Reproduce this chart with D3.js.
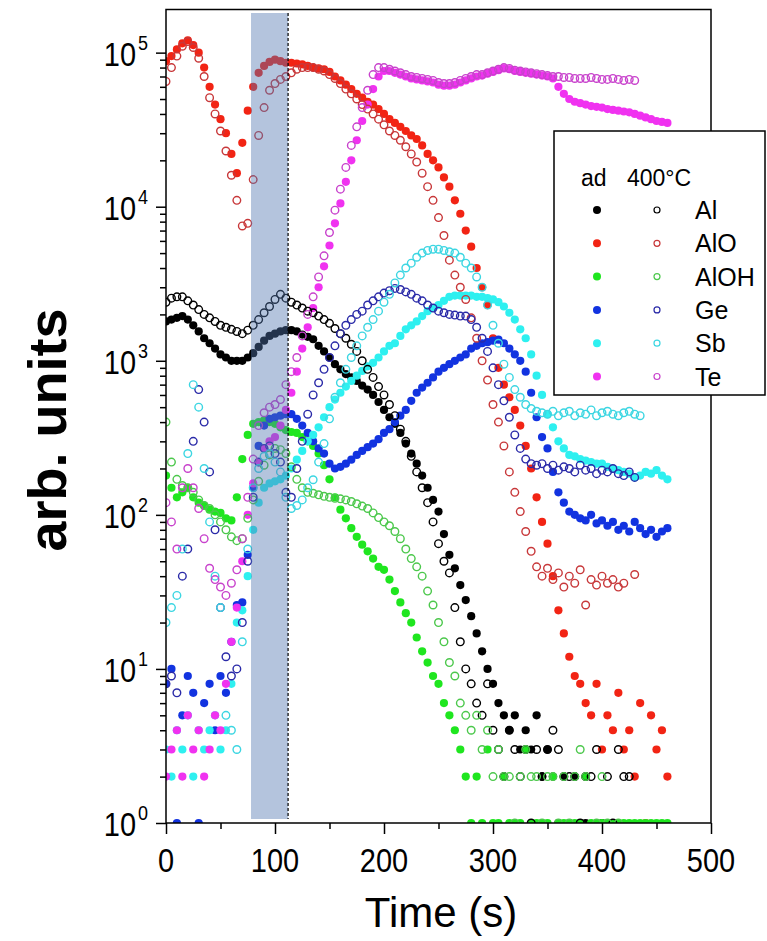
<!DOCTYPE html>
<html><head><meta charset="utf-8">
<script src="https://cdn.jsdelivr.net/npm/d3@7"></script>
<style>
body{margin:0;background:#fff}
svg{display:block}
text{font-family:"Liberation Sans",Arial,Helvetica,sans-serif;fill:#000}
</style>
</head><body>
<svg id="chart" width="767" height="941"></svg>
<script>
// ---------------- data (time in s, signal in arb. units) ----------------
const time = [
  0,5,10,15,20,25,30,35,40,45, 50,55,60,65,70,75,80,85,90,95,
  100,105,110,115,120,125,130,135,140,145, 150,155,160,165,170,175,180,185,190,195,
  200,205,210,215,220,225,230,235,240,245, 250,255,260,265,270,275,280,285,290,295,
  300,305,310,315,320,325,330,335,340,345, 350,355,360,365,370,375,380,385,390,395,
  400,405,410,415,420,425,430,435,440,445, 450,455,460];

// "ad" (filled) series
const alAd = [
  1800,1850,1900,1950,1850,1700,1550,1400,1300,1200,
  1100,1050,1000,1000,1000,1050,1120,1230,1350,1450,
  1500,1550,1580,1580,1550,1480,1430,1380,1250,1150,
  1050,950,880,820,780,740,690,650,600,540,
  480,430,390,340,290,250,215,180,150,125,
  105,75,55,45,35,28,22,17,13,10,
  8,6,5,4,5,3,4,3,5,2,
  3,2,1,2,1,2,1,1,null,null,
  1,null,null,null,null,null,null,null,null,null,
  null,null,null];
const alOAd = [
  88000,95000,105000,115000,120000,112000,100000,80000,60000,46000,
  37000,30000,22000,16500,26000,42000,60000,74000,82000,87000,
  90000,88000,86000,86000,85000,84000,82000,80000,79000,78000,
  75000,70000,66000,62000,58000,54000,51000,48000,46000,43000,
  40000,37000,35000,33000,31000,29000,27500,25000,22000,20000,
  18000,15500,13500,11000,9000,7000,5500,4000,3000,2300,
  1400,900,700,580,480,380,280,200,130,90,
  65,40,24,17,12,9,8,6,5,8,
  3,5,4,7,3,4,2,6,1,5,
  3,4,2];
const alOHAd = [
  180,150,130,140,150,130,120,115,108,105,
  103,95,92,130,230,330,390,400,410,400,
  390,370,355,345,340,320,300,280,250,210,
  170,130,108,95,82,72,64,58,52,46,
  44,38,32,27,23,20,16,13,11,9,
  8,6,5,4,3,2,1,2,1,3,
  1,1,2,1,1,1,3,1,1,1,
  1,2,1,1,1,1,1,2,1,1,
  1,1,1,1,1,1,1,1,1,1,
  1,1,1];
const geAd = [
  8,10,1,5,9,7,1,6,8,4,
  9,7,15,26,27,55,150,280,380,420,
  430,440,450,450,420,380,340,300,270,250,
  215,200,205,215,228,245,260,275,290,310,
  340,360,400,440,480,550,620,670,720,780,
  850,900,950,1000,1050,1100,1200,1250,1300,1320,
  1350,1370,1300,1200,1100,1000,850,620,430,320,
  270,190,140,120,105,100,95,92,100,88,
  92,85,90,80,85,78,90,82,75,80,
  72,78,82];
const sbAd = [
  3,2,4,3,5,2,4,3,4,5,
  3,4,8,20,24,40,80,120,150,160,
  165,170,180,200,228,260,300,330,370,430,
  500,560,620,680,740,800,860,920,970,1050,
  1150,1250,1300,1450,1600,1700,1800,1950,2100,2200,
  2300,2450,2600,2650,2650,2650,2650,2600,2600,2550,
  2500,2400,2250,2050,1850,1600,1400,1100,800,600,
  450,370,300,270,245,240,230,225,220,215,
  215,205,200,195,190,185,175,180,190,185,
  195,180,170];
const teAd = [
  2,3,4,2,5,3,4,2,3,5,
  4,8,15,25,50,100,160,220,270,300,
  320,380,480,620,850,1200,1650,2200,3000,4100,
  5600,7800,10500,14500,20000,27000,36000,46000,58000,70000,
  76000,76000,74000,72000,70000,68000,67000,66000,65000,64000,
  62000,61000,61000,62000,64000,66000,68000,70000,71000,73000,
  75000,77000,79000,78000,76000,75000,74000,73000,72000,71000,
  70000,68000,60000,54000,50000,48000,47000,46000,45000,44500,
  44000,43000,42500,42000,41500,41000,40000,39000,38000,37000,
  36000,35500,35000];

// "400°C" (open) series
const al400 = [
  2400,2550,2600,2600,2450,2300,2150,2000,1900,1800,
  1700,1650,1600,1550,1500,1580,1700,1850,2050,2250,
  2500,2700,2550,2400,2300,2200,2100,2050,1950,1850,
  1750,1620,1500,1400,1280,1150,1000,880,780,680,
  600,520,440,360,300,240,190,150,120,90,
  65,50,42,25,15,10,8,6,5,8,
  4,3,2,4,3,2,3,1,3,2,
  3,4,3,2,2,2,1,2,2,3,
  null,2,1,3,2,2,null,null,null,null,
  null,null,null];
const alO400 = [
  65000,80000,95000,110000,118000,108000,92000,70000,51000,40000,
  31000,23000,16000,11000,7500,7800,15000,29000,44000,57000,
  63000,67000,70000,74000,78000,80000,80000,80000,78000,76000,
  72000,68000,63000,58000,54000,50000,46000,43000,40000,37000,
  34000,31000,29000,27000,24500,22000,19500,16500,13500,11000,
  8500,6500,4500,3600,3000,2500,1900,1400,1000,750,
  520,400,280,190,140,105,78,58,46,40,
  45,38,42,34,40,36,44,26,38,35,
  40,36,38,34,36,null,41,null,null,null,
  null,null,null];
const alOH400 = [
  400,220,170,155,150,140,125,115,110,100,
  90,80,72,68,70,95,125,165,210,245,
  270,265,250,205,170,150,140,138,135,132,
  130,128,127,125,122,118,114,110,103,96,
  90,85,78,70,60,52,46,40,32,26,
  20,15,11,9,6,5,4,5,3,4,
  2,3,2,2,1,2,3,2,2,1,
  2,2,1,2,1,2,3,2,null,1,
  2,1,null,1,null,null,null,null,null,null,
  null,null,null];
const ge400 = [
  8,9,7,40,60,300,650,400,190,80,
  25,12,9,10,20,50,130,220,270,280,
  250,220,140,130,200,300,450,600,720,880,
  1050,1250,1500,1700,1850,2000,2100,2300,2450,2600,
  2750,2850,2950,2900,2800,2700,2550,2450,2300,2200,
  2100,2050,2000,1980,1950,1950,1850,1650,1400,1150,
  900,700,550,430,330,270,230,215,210,215,
  200,210,195,205,200,190,210,195,200,185,
  195,190,200,185,180,190,175,null,null,null,
  null,null,null];
const sb400 = [
  20,25,30,60,250,700,500,200,90,40,
  25,5,4,3,15,60,150,200,240,250,
  220,190,130,110,115,125,150,169,220,290,
  420,580,720,880,1050,1250,1450,1650,1850,2100,
  2400,2700,3200,3600,4000,4300,4700,5000,5200,5300,
  5300,5200,5100,5000,4700,4300,4000,3500,3000,2300,
  1700,1300,950,780,650,580,520,490,470,460,
  450,470,440,460,470,440,460,450,480,440,
  460,470,450,440,460,470,450,440,null,null,
  null,null,null];
const te400 = [
  120,90,60,150,200,150,110,70,45,38,
  34,30,36,44,70,130,230,380,460,500,
  520,560,700,850,1050,1450,2000,2600,3500,4800,
  6800,9500,13000,18000,25000,33000,44000,57000,72000,80000,
  80000,78000,76000,74000,72000,70000,69000,68000,67000,66000,
  64000,63000,63000,64000,66000,68000,70000,72000,72000,74000,
  76000,78000,80000,79000,77000,76000,75000,74000,73000,72000,
  71000,70000,70000,69000,69000,68000,68000,68000,69000,68000,
  67000,67000,68000,67000,66000,67000,66000,null,null,null,
  null,null,null];

const species = ["Al","AlO","AlOH","Ge","Sb","Te"];
const adSeries = [alAd, alOAd, alOHAd, geAd, sbAd, teAd];
const hotSeries = [al400, alO400, alOH400, ge400, sb400, te400];
const adColors = ["#000000","#f22414","#1fe61f","#1233e0","#2ef0f0","#f032f0"];
const hotColors = ["#000000","#c8383a","#4cc84c","#2a2aa8","#3cd6e2","#c842cc"];
const xTickValues = [0,100,200,300,400,500];
const xMinorValues = [50,150,250,350,450];
const yExponents = [0,1,2,3,4,5];
const shadeStart = 78, shadeEnd = 112;
const legendHeader = ["ad","400°C"];

// ---------------- layout ----------------
const L = 166, R = 711, T = 9.5, B = 823;
const svg = d3.select("#chart");
const x = d3.scaleLinear().domain([0,500]).range([L,R]);
const y = d3.scaleLog().domain([1, Math.pow(10,5.28)]).range([B,T]);

svg.append("defs").append("clipPath").attr("id","plotclip")
  .append("rect").attr("x",L).attr("y",T).attr("width",R-L).attr("height",B-T);

const plot = svg.append("g").attr("clip-path","url(#plotclip)");
const pts = arr => time.map((t,i)=>({t, v: arr[i]})).filter(d => d.v != null);

// filled markers
adSeries.forEach((arr,k)=>{
  plot.append("g").selectAll("circle").data(pts(arr)).join("circle")
    .attr("cx",d=>x(d.t)).attr("cy",d=>y(d.v)).attr("r",4.1)
    .attr("fill",adColors[k]);
});
// open markers
hotSeries.forEach((arr,k)=>{
  plot.append("g").selectAll("circle").data(pts(arr)).join("circle")
    .attr("cx",d=>x(d.t)).attr("cy",d=>y(d.v)).attr("r",3.8)
    .attr("fill","none").attr("stroke",hotColors[k]).attr("stroke-width",1.4);
});

// shaded window (semi-transparent, drawn over the data)
svg.append("rect")
  .attr("x",x(shadeStart)).attr("width",x(shadeEnd)-x(shadeStart))
  .attr("y",T+3.5).attr("height",B-T-7.5)
  .attr("fill","rgb(80,118,176)").attr("fill-opacity",0.43);
svg.append("line")
  .attr("x1",x(shadeEnd)).attr("x2",x(shadeEnd)).attr("y1",T+3.5).attr("y2",B-4)
  .attr("stroke","#000").attr("stroke-width",1.2).attr("stroke-dasharray","3,2");

// frame
svg.append("rect").attr("x",L).attr("y",T).attr("width",R-L).attr("height",B-T)
  .attr("fill","none").attr("stroke","#000").attr("stroke-width",1.5);

// y axis
const yMinor = [];
yExponents.forEach(e=>{ for(let m=2;m<=9;m++){ const v=m*Math.pow(10,e); if(v<Math.pow(10,5.28)) yMinor.push(v);} });
const styleAxis = g => { g.select(".domain").remove(); g.selectAll(".tick line").attr("stroke","#000").attr("stroke-width",1.5); };
svg.append("g").attr("transform",`translate(${L},0)`)
  .call(d3.axisLeft(y).tickValues(yExponents.map(e=>Math.pow(10,e))).tickSize(10).tickFormat(""))
  .call(styleAxis);
svg.append("g").attr("transform",`translate(${L},0)`)
  .call(d3.axisLeft(y).tickValues(yMinor).tickSize(6).tickFormat(""))
  .call(styleAxis);

const TS = 1.15;
yExponents.forEach(e=>{
  const t = svg.append("text")
    .attr("transform",`translate(148,${y(Math.pow(10,e))+13}) scale(1,${TS})`)
    .attr("text-anchor","end");
  t.append("tspan").attr("font-size",29).text("10");
  t.append("tspan").attr("font-size",18).attr("dy",-14).attr("dx",2).text(String(e));
});

// x axis
svg.append("g").attr("transform",`translate(0,${B})`)
  .call(d3.axisBottom(x).tickValues(xTickValues).tickSize(11).tickFormat(""))
  .call(styleAxis);
svg.append("g").attr("transform",`translate(0,${B})`)
  .call(d3.axisBottom(x).tickValues(xMinorValues).tickSize(6).tickFormat(""))
  .call(styleAxis);
xTickValues.forEach(v=>{
  svg.append("text").attr("transform",`translate(${x(v)},872) scale(1,${TS})`)
    .attr("text-anchor","middle").attr("font-size",29).text(String(v));
});

// axis titles
svg.append("text").attr("transform",`translate(441,927)`)
  .attr("text-anchor","middle").attr("font-size",42).text("Time (s)");
svg.append("text").attr("transform",`translate(66,430) rotate(-90)`)
  .attr("text-anchor","middle").attr("font-size",54).attr("font-weight","bold").text("arb. units");

// legend
const lg = svg.append("g");
lg.append("rect").attr("x",554).attr("y",131).attr("width",211).attr("height",264)
  .attr("fill","#fff").attr("stroke","#000").attr("stroke-width",1.5);
lg.append("text").attr("x",581).attr("y",186).attr("font-size",23).text(legendHeader[0]);
lg.append("text").attr("x",627).attr("y",186).attr("font-size",23).text(legendHeader[1]);
species.forEach((s,i)=>{
  const cy = 210 + i*33.3;
  lg.append("circle").attr("cx",597).attr("cy",cy).attr("r",4).attr("fill",adColors[i]);
  lg.append("circle").attr("cx",657).attr("cy",cy).attr("r",3).attr("fill","none")
    .attr("stroke",hotColors[i]).attr("stroke-width",1.2);
  lg.append("text").attr("x",695).attr("y",cy+9).attr("font-size",25).text(s);
});
</script>
</body></html>
